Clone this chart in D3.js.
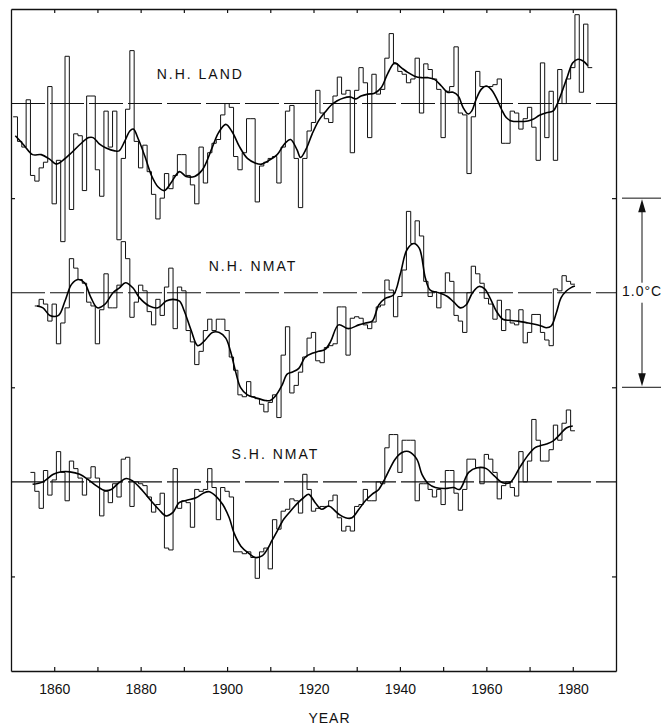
<!DOCTYPE html>
<html>
<head>
<meta charset="utf-8">
<script src="https://cdn.jsdelivr.net/npm/d3@7"></script>
<style>
  html, body { margin: 0; padding: 0; background: #fff; }
  svg { display: block; }
  text { font-family: "Liberation Sans", Arial, Helvetica, sans-serif; fill: #111; }
</style>
</head>
<body>
<svg id="chart" width="664" height="727"></svg>
<script>
// Annual temperature anomalies (°C), each series relative to its own reference line
const landStart = 1851;
const landAnnual = [
  -0.07, -0.20, -0.23, 0.02, -0.38, -0.41, -0.34, -0.31, 0.09, -0.53,
  -0.30, -0.73, 0.25, -0.56, -0.16, -0.17, -0.46, 0.04, 0.04, -0.35,
  -0.49, -0.04, -0.23, -0.04, -0.72, -0.29, -0.03, 0.28, -0.20, -0.34,
  -0.22, -0.36, -0.48, -0.61, -0.50, -0.37, -0.45, -0.38, -0.27, -0.27,
  -0.38, -0.43, -0.53, -0.23, -0.42, -0.26, -0.21, -0.19, -0.06, 0.00,
  -0.02, -0.28, -0.35, -0.26, -0.08, -0.08, -0.52, -0.33, -0.31, -0.29,
  -0.28, -0.42, -0.23, -0.04, -0.01, -0.29, -0.55, -0.29, -0.145, -0.10,
  0.07, -0.05, -0.08, -0.10, 0.04, 0.14, 0.05, 0.07, -0.26, 0.07,
  0.19, 0.11, -0.18, 0.155, 0.05, 0.075, 0.24, 0.37, 0.21, 0.17,
  0.155, 0.11, 0.13, 0.24, -0.05, 0.21, 0.18, 0.13, 0.075, -0.18,
  0.065, 0.09, 0.30, -0.05, -0.06, -0.37, -0.07, 0.17, 0.09, 0.09,
  0.09, 0.10, 0.13, -0.21, -0.21, -0.04, -0.05, -0.135, -0.08, -0.02,
  -0.125, -0.30, 0.215, -0.18, 0.065, -0.30, 0.18, 0.00, 0.13, 0.19,
  0.47, 0.06, 0.42, 0.19
];

const nmatStart = 1856;
const nmatAnnual = [
  -0.07, -0.035, -0.06, -0.15, -0.06,
  -0.27, -0.16, -0.08, 0.18, 0.13, 0.07, 0.05, -0.05, -0.07, -0.27,
  -0.09, 0.10, -0.08, -0.08, 0.04, 0.27, 0.18, -0.13, -0.05, 0.04,
  0.01, -0.10, -0.17, -0.035, -0.12, 0.03, 0.13, -0.19, 0.03, 0.01,
  -0.20, -0.26, -0.38, -0.31, -0.20, -0.14, -0.20, -0.14, -0.14, -0.20,
  -0.34, -0.41, -0.54, -0.55, -0.47, -0.55, -0.56, -0.59, -0.63, -0.58,
  -0.54, -0.66, -0.33, -0.18, -0.53, -0.49, -0.42, -0.34, -0.24, -0.21,
  -0.36, -0.37, -0.29, -0.28, -0.27, -0.075, -0.075, -0.33, -0.135, -0.127,
  -0.135, -0.17, -0.19, -0.155, -0.075, -0.065, 0.067, 0.014, -0.127, -0.02,
  0.12, 0.43, 0.26, 0.38, 0.30, 0.06, -0.02, 0.005, -0.08, 0.00,
  0.105, 0.06, -0.12, -0.15, -0.21, 0.00, 0.14, 0.10, 0.05, -0.03,
  -0.06, -0.14, -0.04, -0.20, -0.09, -0.16, -0.17, -0.09, -0.265, -0.21,
  -0.115, -0.115, -0.21, -0.25, -0.28, 0.02, 0.01, 0.09, 0.06, 0.045
];

const shStart = 1855;
const shAnnual = [
  0.05, -0.05, -0.14, 0.06, -0.07, 0.01,
  0.16, 0.05, -0.10, 0.11, 0.07, 0.02, -0.07, 0.02, 0.08, 0.02,
  -0.18, -0.05, -0.11, -0.01, -0.08, 0.12, 0.13, -0.13, 0.00, -0.01,
  -0.02, -0.08, -0.16, -0.12, -0.06, -0.35, -0.36, 0.07, -0.14, -0.10,
  -0.11, -0.24, -0.04, -0.05, -0.04, 0.07, -0.03, -0.20, -0.03, -0.05,
  -0.08, -0.37, -0.37, -0.38, -0.37, -0.40, -0.51, -0.37, -0.35, -0.46,
  -0.20, -0.25, -0.155, -0.145, -0.09, -0.10, -0.165, 0.04, -0.04, -0.155,
  -0.14, -0.13, -0.13, -0.10, -0.07, -0.19, -0.26, -0.235, -0.26, -0.13,
  -0.12, -0.04, -0.10, -0.10, 0.00, -0.01, 0.18, 0.25, 0.25, 0.05,
  0.22, 0.22, 0.22, -0.10, -0.01, -0.01, -0.04, -0.08, -0.04, -0.12,
  0.06, 0.06, -0.06, -0.15, -0.04, 0.12, 0.12, 0.075, -0.01, 0.145,
  0.12, 0.05, -0.09, -0.02, 0.00, -0.03, -0.075, 0.16, 0.00, 0.11,
  0.33, 0.22, 0.11, 0.11, 0.17, 0.30, 0.22, 0.31, 0.38, 0.27
];

// Low-pass filtered curves, [year, °C]
const landSmooth = [
  [1851,-0.17],[1853,-0.22],[1855,-0.27],[1857,-0.27],[1859,-0.295],[1860.5,-0.32],[1862,-0.30],
  [1864,-0.26],[1866,-0.215],[1868,-0.18],[1869,-0.18],[1870.5,-0.215],[1872,-0.235],[1874,-0.25],
  [1875,-0.25],[1876.3,-0.20],[1877.5,-0.145],[1878.3,-0.135],[1879.5,-0.19],[1881,-0.28],
  [1882.5,-0.38],[1884,-0.44],[1885.5,-0.46],[1887,-0.42],[1889,-0.36],[1890.5,-0.385],
  [1892.5,-0.385],[1894.3,-0.35],[1896.6,-0.23],[1898,-0.155],[1899.7,-0.11],[1901.2,-0.15],
  [1902.8,-0.225],[1904.7,-0.29],[1906.6,-0.315],[1908,-0.32],[1909.7,-0.30],[1911.6,-0.27],
  [1913.4,-0.21],[1914.7,-0.19],[1916.2,-0.245],[1917,-0.285],[1918.3,-0.24],[1919.7,-0.16],
  [1921.2,-0.09],[1922.7,-0.045],[1924,-0.01],[1925.5,0.015],[1927,0.03],[1928.5,0.035],
  [1929.8,0.025],[1931,0.04],[1932.6,0.05],[1934.1,0.055],[1935.7,0.085],[1937.2,0.16],
  [1938.8,0.215],[1940.3,0.19],[1941.8,0.165],[1943.4,0.145],[1945,0.137],[1946.5,0.137],
  [1948,0.128],[1949.6,0.093],[1951,0.06],[1952.3,0.06],[1953.5,0.04],[1954.6,-0.02],
  [1955.8,-0.055],[1956.6,-0.04],[1957.6,0.02],[1958.8,0.075],[1960,0.093],[1961.1,0.075],
  [1962.3,0.03],[1963.5,-0.03],[1964.6,-0.074],[1965.8,-0.092],[1967.7,-0.095],[1969.6,-0.092],
  [1970.8,-0.083],[1972.3,-0.062],[1973.9,-0.048],[1975.4,-0.04],[1976.5,0.003],[1977.7,0.075],
  [1978.8,0.146],[1980,0.216],[1981.2,0.234],[1982.4,0.225],[1983.5,0.20]
];

const nmatSmooth = [
  [1856,-0.07],[1857.4,-0.08],[1859,-0.12],[1861,-0.12],[1862.5,-0.044],[1864,0.044],[1865.5,0.07],
  [1867,0.053],[1868.5,-0.026],[1870,-0.08],[1871.7,-0.062],[1873.6,0.0],[1875.1,0.026],
  [1876.5,0.053],[1878.2,0.026],[1879.7,-0.026],[1882,-0.07],[1884,-0.08],[1885.9,-0.044],
  [1887.4,-0.035],[1889,-0.044],[1890.1,-0.097],[1891.7,-0.20],[1893.2,-0.28],[1894.7,-0.256],
  [1896.6,-0.21],[1898.2,-0.21],[1899.7,-0.24],[1900.8,-0.31],[1902,-0.42],[1903.1,-0.50],
  [1904.7,-0.54],[1906.6,-0.555],[1908.9,-0.57],[1910,-0.57],[1911.2,-0.546],[1912.7,-0.49],
  [1913.9,-0.43],[1915,-0.42],[1916.6,-0.40],[1918.1,-0.34],[1919.7,-0.32],[1921.2,-0.31],
  [1922.7,-0.30],[1924,-0.256],[1925.8,-0.17],[1928.1,-0.19],[1930.5,-0.17],[1932,-0.16],
  [1933.6,-0.15],[1935.1,-0.065],[1936.6,-0.03],[1938.5,-0.012],[1940.1,0.10],[1941.6,0.226],
  [1943.2,0.26],[1944.5,0.234],[1945.9,0.076],[1947,0.014],[1949,0.0],[1951,-0.02],
  [1952.5,-0.05],[1954,-0.08],[1955.3,-0.065],[1956.8,0.0],[1958.3,0.033],[1959.6,0.02],
  [1961,-0.035],[1962.3,-0.097],[1963.8,-0.14],[1965.4,-0.146],[1967.3,-0.15],[1969.2,-0.158],
  [1971.2,-0.167],[1972.7,-0.176],[1973.9,-0.185],[1975,-0.176],[1976.2,-0.106],[1977.3,-0.026],
  [1978.5,0.009],[1979.6,0.027],[1980.5,0.035]
];

const shSmooth = [
  [1855,-0.013],[1857.4,0.0],[1859.8,0.04],[1861.7,0.053],[1863.6,0.053],[1865.9,0.04],
  [1867.8,0.013],[1869.7,-0.02],[1871.6,-0.045],[1873.2,-0.04],[1874.7,-0.01],[1876.7,0.018],
  [1878.2,0.004],[1880.5,-0.048],[1882.4,-0.10],[1884.2,-0.146],[1885.9,-0.18],[1887.4,-0.163],
  [1888.9,-0.11],[1890.5,-0.098],[1892.8,-0.084],[1894.7,-0.057],[1895.9,-0.052],[1897.4,-0.075],
  [1899,-0.12],[1900.5,-0.19],[1901.6,-0.27],[1903.2,-0.34],[1905.1,-0.38],[1906.6,-0.40],
  [1908.2,-0.39],[1909.3,-0.357],[1910.4,-0.31],[1911.6,-0.26],[1913.1,-0.198],[1914.7,-0.154],
  [1916.2,-0.115],[1917.7,-0.084],[1918.9,-0.066],[1920.4,-0.11],[1921.9,-0.145],[1923.5,-0.128],
  [1925.8,-0.17],[1927.4,-0.19],[1928.9,-0.19],[1930.5,-0.145],[1932,-0.10],[1933.6,-0.065],
  [1935.1,-0.04],[1936.6,0.02],[1938.9,0.12],[1940.5,0.155],[1942,0.16],[1943.9,0.12],
  [1945.1,0.04],[1946.6,-0.01],[1948.2,-0.03],[1950.5,-0.035],[1952.4,-0.03],[1953.8,-0.04],
  [1955.9,0.05],[1957.9,0.075],[1960,0.07],[1961.9,0.03],[1963.8,-0.005],[1965.4,-0.005],
  [1967.7,0.075],[1969.6,0.14],[1971.2,0.18],[1972.3,0.19],[1973.9,0.20],[1975.4,0.215],
  [1977,0.25],[1978.5,0.285],[1980,0.295]
];

const seriesNames = ["N.H. LAND", "N.H. NMAT", "S.H. NMAT"];
const decadeTicks = [1860, 1870, 1880, 1890, 1900, 1910, 1920, 1930, 1940, 1950, 1960, 1970, 1980];
const labelledYears = [1860, 1880, 1900, 1920, 1940, 1960, 1980];
const xTitle = "YEAR";
const scaleLabel = "1.0°C";

// ---- layout ----
const svg = d3.select("#chart");
const frameL = 11, frameR = 616, frameT = 9, frameB = 671;

const x = d3.scaleLinear().domain([1850, 1990]).range([frameL, frameR]);
// One shared temperature scale; each series is stacked 1 °C below the previous one
const y = d3.scaleLinear().domain([-3.0, 0.5]).range([frameB, frameT]);

const panels = [
  { name: seriesNames[0], offset: 0,  start: landStart, annual: landAnnual, smooth: landSmooth, labelYear: 1893.8, labelV: 0.15 },
  { name: seriesNames[1], offset: -1, start: nmatStart, annual: nmatAnnual, smooth: nmatSmooth, labelYear: 1906.0, labelV: 0.135 },
  { name: seriesNames[2], offset: -2, start: shStart,  annual: shAnnual,  smooth: shSmooth,  labelYear: 1911.2, labelV: 0.14 }
];

const ink = "#111";

// reference (zero) lines
panels.forEach(p => {
  svg.append("line")
    .attr("x1", x(1850)).attr("x2", x(1990))
    .attr("y1", y(p.offset)).attr("y2", y(p.offset))
    .attr("stroke", ink).attr("stroke-width", 1.1)
    .attr("stroke-dasharray", "34,5");
});

// annual values as a stepped histogram outline
const stepLine = d3.line().x(d => x(d[0])).y(d => y(d[1]));
panels.forEach(p => {
  const pts = [];
  p.annual.forEach((v, i) => {
    const yr = p.start + i;
    pts.push([yr - 0.5, p.offset + v], [yr + 0.5, p.offset + v]);
  });
  svg.append("path")
    .attr("d", stepLine(pts))
    .attr("fill", "none").attr("stroke", ink)
    .attr("stroke-width", 1).attr("stroke-linejoin", "miter");
});

// filtered curves
const smoothLine = d3.line()
  .x(d => x(d[0])).y(d => y(d[1]))
  .curve(d3.curveCatmullRom.alpha(0.5));
panels.forEach(p => {
  svg.append("path")
    .attr("d", smoothLine(p.smooth.map(d => [d[0], p.offset + d[1]])))
    .attr("fill", "none").attr("stroke", "#000")
    .attr("stroke-width", 1.6);
});

// series names
panels.forEach(p => {
  svg.append("text")
    .attr("x", x(p.labelYear)).attr("y", y(p.offset + p.labelV))
    .attr("text-anchor", "middle").attr("dominant-baseline", "middle")
    .attr("font-size", 14).attr("letter-spacing", 2)
    .text(p.name);
});

// frame with inward ticks
const bottomAxis = d3.axisBottom(x).tickValues(decadeTicks).tickSize(-4).tickSizeOuter(0)
  .tickPadding(13)
  .tickFormat(d => labelledYears.includes(d) ? String(d) : "");
const topAxis = d3.axisTop(x).tickValues(decadeTicks).tickSize(-4).tickSizeOuter(0).tickFormat("");
const leftAxis = d3.axisLeft(y).tickValues([-2.5, -1.5, -0.5]).tickSize(-4).tickSizeOuter(0).tickFormat("");
const rightAxis = d3.axisRight(y).tickValues([-2.5, -1.5, -0.5]).tickSize(-4).tickSizeOuter(0).tickFormat("");

function styleAxis(g) {
  g.selectAll("path.domain").attr("stroke", ink).attr("stroke-width", 1.3);
  g.selectAll(".tick line").attr("stroke", ink).attr("stroke-width", 1.2);
  g.selectAll(".tick text")
    .attr("font-family", "'Liberation Sans', Arial, sans-serif")
    .attr("font-size", 14).attr("fill", ink);
}
svg.append("g").attr("transform", `translate(0,${frameB})`).call(bottomAxis).call(styleAxis);
svg.append("g").attr("transform", `translate(0,${frameT})`).call(topAxis).call(styleAxis);
svg.append("g").attr("transform", `translate(${frameL},0)`).call(leftAxis).call(styleAxis);
svg.append("g").attr("transform", `translate(${frameR},0)`).call(rightAxis).call(styleAxis);

// axis title
svg.append("text")
  .attr("x", (frameL + frameR) / 2 + 16).attr("y", 723)
  .attr("text-anchor", "middle").attr("font-size", 14).attr("letter-spacing", 1)
  .text(xTitle);

// 1 °C scale bar on the right
const barX = 642, yTopBar = y(-0.5), yBotBar = y(-1.5), yMid = y(-1.0);
[yTopBar, yBotBar].forEach(yy => {
  svg.append("line").attr("x1", 622).attr("x2", 661).attr("y1", yy).attr("y2", yy)
    .attr("stroke", ink).attr("stroke-width", 1);
});
svg.append("line").attr("x1", barX).attr("x2", barX)
  .attr("y1", yTopBar + 10).attr("y2", yMid - 10).attr("stroke", ink).attr("stroke-width", 1);
svg.append("line").attr("x1", barX).attr("x2", barX)
  .attr("y1", yMid + 10).attr("y2", yBotBar - 10).attr("stroke", ink).attr("stroke-width", 1);
svg.append("path")
  .attr("d", `M${barX},${yTopBar + 1}L${barX - 3.8},${yTopBar + 14}L${barX + 3.8},${yTopBar + 14}Z`)
  .attr("fill", ink);
svg.append("path")
  .attr("d", `M${barX},${yBotBar - 1}L${barX - 3.8},${yBotBar - 14}L${barX + 3.8},${yBotBar - 14}Z`)
  .attr("fill", ink);
svg.append("text")
  .attr("x", 622).attr("y", yMid)
  .attr("dominant-baseline", "middle")
  .attr("font-size", 14).attr("letter-spacing", 1)
  .text(scaleLabel);
</script>
</body>
</html>
